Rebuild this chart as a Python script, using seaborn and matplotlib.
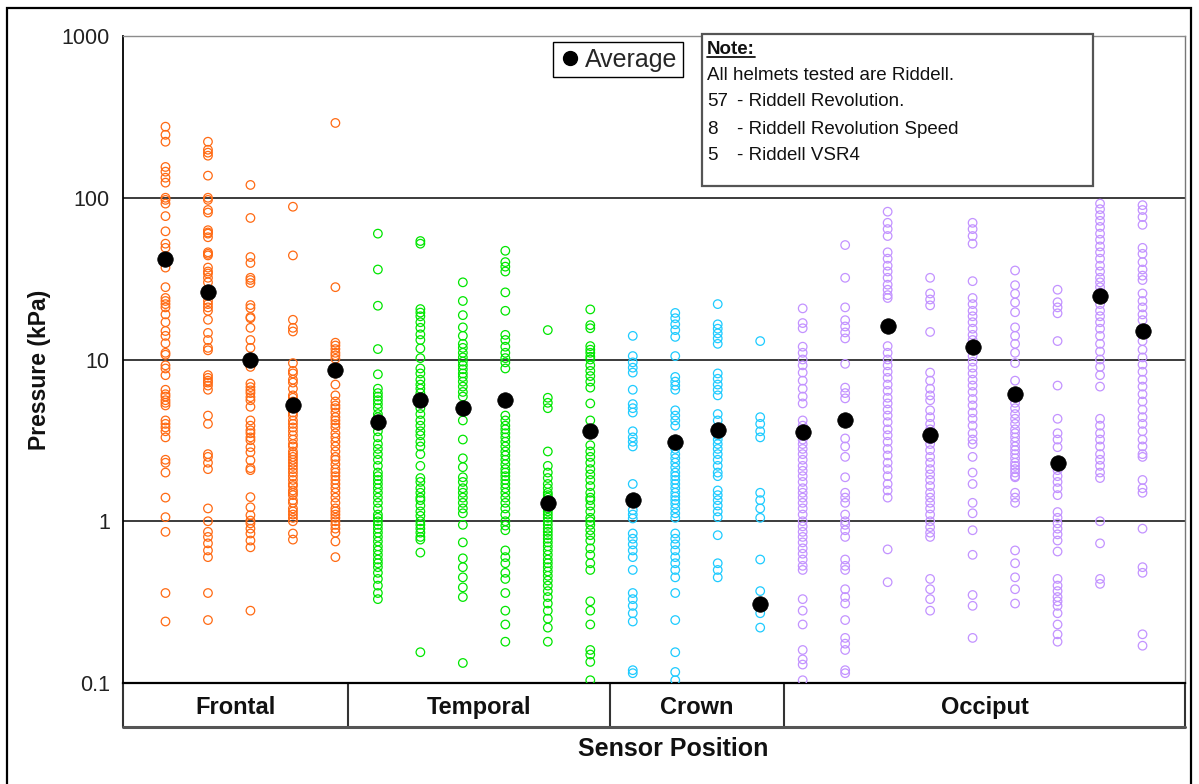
import numpy as np
import pandas as pd
import matplotlib
matplotlib.use("Agg")
import matplotlib.pyplot as plt
import seaborn as sns
from matplotlib.patches import Rectangle
from matplotlib.lines import Line2D
from matplotlib.ticker import LogLocator, FixedLocator, FuncFormatter, NullFormatter

# ---- data: peak pressure (kPa) per sensor, grouped by head region ----
regions = ["Frontal", "Temporal", "Crown", "Occiput"]
region_colors = ["#FF6A13", "#00E600", "#1ECBFF", "#C393FF"]

frontal = [
    [275, 245, 222, 155, 145, 133, 124, 100, 97, 92, 77, 62, 52, 49, 37, 28, 24, 23, 22, 21, 19, 17, 15, 14,
     12.6, 11, 10.7, 9.2, 8.8, 8.0, 6.5, 6.1, 5.9, 5.6, 5.4, 5.2, 4.2, 4.0, 3.8, 3.6, 3.3, 2.4, 2.3, 2.0,
     1.4, 1.06, 0.86, 0.36, 0.24],
    [222, 198, 190, 182, 137, 100, 97, 84, 81, 63, 61, 60, 57, 46, 45, 44, 37, 35, 34, 32, 30, 27, 26, 23,
     22, 21, 20, 17.6, 14.6, 13.2, 11.8, 11.4, 8.0, 7.7, 7.4, 7.2, 6.9, 6.5, 4.5, 4.0, 2.6, 2.5, 2.3, 2.1,
     1.2, 1.0, 0.86, 0.8, 0.73, 0.66, 0.6, 0.36, 0.245],
    [120, 75, 43, 39.5, 32, 31, 29.7, 21.7, 20.8, 18.3, 18, 15.7, 13.2, 11.8, 9.0, 7.1, 6.75, 6.45, 6.2,
     5.85, 5.6, 5.1, 4.2, 3.9, 3.65, 3.5, 3.3, 3.17, 2.87, 2.67, 2.38, 2.13, 2.07, 1.41, 1.22, 1.09, 1.01,
     0.97, 0.9, 0.84, 0.76, 0.69, 0.28],
    [88, 44, 17.6, 15.7, 14.9, 9.5, 8.5, 8.2, 7.5, 7.2, 6.6, 6.0, 5.8, 5.5, 5.3, 5.0, 4.7, 4.5, 4.2, 4.0,
     3.8, 3.6, 3.4, 3.2, 3.0, 2.9, 2.7, 2.6, 2.5, 2.4, 2.3, 2.2, 2.1, 2.0, 1.9, 1.8, 1.7, 1.65, 1.55, 1.5,
     1.45, 1.35, 1.3, 1.2, 1.15, 1.1, 1.05, 1.0, 0.84, 0.77],
    [290, 28, 12.7, 12.2, 11.6, 11, 10.6, 10.1, 8.2, 7.0, 6.0, 5.5, 5.2, 5.0, 4.7, 4.4, 4.2, 4.0, 3.8, 3.5,
     3.3, 3.1, 2.9, 2.7, 2.5, 2.4, 2.25, 2.1, 2.0, 1.9, 1.8, 1.7, 1.6, 1.5, 1.4, 1.3, 1.2, 1.15, 1.1, 1.05,
     1.0, 0.95, 0.9, 0.85, 0.75, 0.6],
]
temporal = [
    [60, 36, 21.5, 11.6, 8.1, 6.6, 6.2, 5.9, 5.6, 5.3, 5.0, 4.6, 4.4, 3.9, 3.6, 3.3, 3.0, 2.8, 2.6, 2.4,
     2.2, 2.0, 1.9, 1.8, 1.7, 1.6, 1.5, 1.4, 1.3, 1.2, 1.1, 1.05, 1.0, 0.95, 0.9, 0.85, 0.8, 0.75, 0.7,
     0.66, 0.62, 0.58, 0.55, 0.52, 0.48, 0.44, 0.4, 0.36, 0.33],
    [54, 52, 20.5, 19.5, 18.5, 17, 15.7, 14.3, 13.2, 11.7, 10.2, 8.8, 8.2, 7.5, 7, 6.6, 6.2, 5.0, 4.6, 4.2,
     3.9, 3.6, 3.4, 3.1, 2.9, 2.6, 2.2, 1.85, 1.75, 1.6, 1.5, 1.4, 1.35, 1.25, 1.15, 1.08, 1.0, 0.95, 0.9,
     0.85, 0.8, 0.77, 0.64, 0.155],
    [30, 23, 18.8, 15.8, 14, 12.5, 11.8, 11, 10.3, 9.7, 9.2, 8.7, 8.2, 7.8, 7.3, 6.8, 6.3, 5.9, 4.2, 3.2,
     2.45, 2.16, 1.87, 1.75, 1.6, 1.5, 1.4, 1.3, 1.2, 1.12, 0.95, 0.74, 0.59, 0.52, 0.45, 0.39, 0.34, 0.133],
    [47, 40, 37.5, 35, 26, 20, 14.2, 13.2, 12, 11, 10.2, 9.6, 8.8, 4.5, 4.2, 3.9, 3.7, 3.5, 3.3, 3.1, 2.9,
     2.7, 2.55, 2.4, 2.25, 2.1, 2.0, 1.9, 1.8, 1.7, 1.6, 1.5, 1.4, 1.3, 1.2, 1.1, 1.0, 0.94, 0.88, 0.66,
     0.6, 0.55, 0.48, 0.44, 0.36, 0.28, 0.23, 0.18],
    [15.2, 5.8, 5.4, 5.0, 2.7, 2.2, 2.0, 1.85, 1.7, 1.6, 1.5, 1.45, 1.4, 1.35, 1.25, 1.2, 1.15, 1.1, 1.05,
     1.0, 0.95, 0.9, 0.86, 0.82, 0.78, 0.74, 0.7, 0.66, 0.62, 0.58, 0.55, 0.52, 0.49, 0.46, 0.43, 0.4,
     0.37, 0.34, 0.31, 0.28, 0.25, 0.22, 0.18],
    [20.4, 16.3, 15.6, 12.1, 11.5, 11, 10.4, 10, 9.2, 8.5, 7.9, 7.3, 6.7, 5.35, 4.2, 2.95, 2.7, 2.5, 2.3,
     2.1, 1.95, 1.8, 1.65, 1.5, 1.4, 1.35, 1.25, 1.15, 1.05, 1.0, 0.95, 0.88, 0.82, 0.76, 0.68, 0.62, 0.55,
     0.5, 0.32, 0.28, 0.23, 0.16, 0.15, 0.135, 0.104],
]
crown = [
    [14, 10.5, 9.6, 8.9, 8.3, 6.5, 5.3, 5.0, 4.7, 3.6, 3.3, 3.1, 2.9, 1.7, 1.17, 1.1, 1.04, 0.84, 0.78,
     0.72, 0.66, 0.6, 0.5, 0.36, 0.33, 0.3, 0.27, 0.24, 0.12, 0.115],
    [19.4, 18, 16.5, 15.2, 13.8, 10.5, 7.8, 7.3, 6.9, 6.5, 4.85, 4.5, 4.2, 3.9, 3.0, 2.8, 2.6, 2.45, 2.3,
     2.15, 2.0, 1.9, 1.8, 1.7, 1.6, 1.5, 1.42, 1.35, 1.28, 1.2, 1.12, 1.05, 0.84, 0.78, 0.72, 0.66, 0.6,
     0.55, 0.5, 0.45, 0.36, 0.245, 0.155, 0.117, 0.104],
    [22, 16.5, 15.5, 14.5, 13.5, 12.5, 8.2, 7.6, 7.0, 6.5, 6.0, 4.6, 4.2, 3.8, 3.4, 3.2, 3.0, 2.8, 2.6,
     2.4, 2.2, 2.0, 1.9, 1.55, 1.45, 1.35, 1.25, 1.15, 1.06, 0.82, 0.55, 0.5, 0.45],
    [13, 4.4, 4.0, 3.6, 3.3, 1.5, 1.35, 1.2, 1.05, 0.58, 0.37, 0.27, 0.22],
]
occiput = [
    [20.7, 16.8, 15.6, 12, 11, 10, 9.2, 8.3, 7.4, 6.6, 5.9, 5.35, 4.2, 3.9, 3.2, 3.0, 2.8, 2.6, 2.4, 2.2,
     2.05, 1.9, 1.75, 1.6, 1.5, 1.4, 1.3, 1.2, 1.1, 1.0, 0.93, 0.86, 0.8, 0.74, 0.68, 0.63, 0.58, 0.53,
     0.5, 0.33, 0.28, 0.23, 0.16, 0.14, 0.13, 0.104],
    [51, 32, 21, 17.5, 16, 14.7, 13.5, 9.4, 6.7, 6.2, 5.75, 3.25, 2.9, 2.5, 1.87, 1.5, 1.4, 1.3, 1.1, 1.0,
     0.95, 0.88, 0.8, 0.58, 0.53, 0.5, 0.38, 0.34, 0.31, 0.245, 0.19, 0.175, 0.16, 0.12, 0.115],
    [82, 70, 64, 58, 46, 42, 38, 35, 32, 29, 27, 25, 24, 12.1, 11, 10, 9.2, 8.4, 7.7, 7.0, 6.4, 5.8, 5.35,
     4.9, 4.5, 4.1, 3.7, 3.4, 3.1, 2.8, 2.55, 2.3, 2.1, 1.9, 1.7, 1.55, 1.4, 0.67, 0.42],
    [32, 25.6, 23.5, 21.6, 14.8, 8.3, 7.4, 6.6, 6.0, 5.6, 4.85, 4.4, 4.0, 3.7, 3.2, 3.0, 2.75, 2.5, 2.3,
     2.1, 1.95, 1.8, 1.65, 1.5, 1.4, 1.3, 1.2, 1.1, 1.0, 0.92, 0.85, 0.8, 0.44, 0.38, 0.33, 0.28],
    [70, 64, 58, 52, 30.5, 24, 22, 20, 18.5, 17, 15.5, 14.2, 13.2, 11.5, 10.5, 9.7, 8.9, 8.2, 7.5, 6.9,
     6.3, 5.7, 5.2, 4.7, 4.3, 3.9, 3.5, 3.2, 3.0, 2.5, 2.0, 1.7, 1.3, 1.12, 0.88, 0.62, 0.35, 0.3, 0.19],
    [35.5, 28.8, 25.5, 22.5, 19.6, 15.8, 14, 12.5, 11, 9.5, 7.4, 5.8, 5.4, 5.0, 4.6, 4.3, 4.0, 3.7, 3.5,
     3.3, 3.1, 2.9, 2.75, 2.6, 2.45, 2.3, 2.2, 2.1, 2.0, 1.9, 1.87, 1.5, 1.4, 1.3, 0.66, 0.55, 0.45, 0.38,
     0.31],
    [27, 22.6, 21, 19.3, 13, 6.9, 4.3, 3.5, 3.2, 2.87, 2.07, 1.9, 1.75, 1.6, 1.45, 1.14, 1.05, 0.97, 0.9,
     0.83, 0.76, 0.65, 0.44, 0.4, 0.37, 0.34, 0.32, 0.3, 0.27, 0.23, 0.2, 0.18],
    [92, 85, 78, 72, 66, 60, 55, 50, 46, 42, 38, 35, 32, 30, 28, 26, 24, 22, 20, 18.5, 17, 15.5, 14, 12.5,
     11.2, 10, 9, 8, 6.8, 4.3, 3.9, 3.5, 3.2, 2.9, 2.6, 2.4, 2.2, 2.0, 1.85, 1.0, 0.73, 0.44, 0.41],
    [90, 84, 76, 68, 49, 45, 40, 36, 33, 31, 25.6, 23, 21, 19, 17.5, 14.6, 13, 11.5, 10.3, 9.3, 8.4, 7.5,
     6.8, 6.1, 5.5, 4.9, 4.4, 4.0, 3.6, 3.2, 2.9, 2.6, 2.5, 1.8, 1.6, 1.5, 0.9, 0.52, 0.48, 0.2, 0.17],
]

frontal_avg = [42, 26, 10, 5.2, 8.6]
temporal_avg = [4.1, 5.6, 5.0, 5.6, 1.3, 3.6]
crown_avg = [1.35, 3.1, 3.65, 0.31]
occiput_avg = [3.55, 4.2, 16, 3.4, 11.9, 6.1, 2.3, 24.6, 15]

# region boxes under the axis, in sensor-position units
region_edges = [0, 5.3, 11.46, 15.56, 25]

note_lines = [
    ("", "All helmets tested are Riddell."),
    ("57", "- Riddell Revolution."),
    ("8", "- Riddell Revolution Speed"),
    ("5", "- Riddell VSR4"),
]

# ---- long-form tables ----
rows, avg_rows = [], []
pos = 1
for name, cols, avgs in zip(regions, [frontal, temporal, crown, occiput],
                            [frontal_avg, temporal_avg, crown_avg, occiput_avg]):
    for col, avg in zip(cols, avgs):
        rows += [(pos, v, name) for v in col]
        avg_rows.append((pos, avg))
        pos += 1
df = pd.DataFrame(rows, columns=["position", "pressure", "region"])
avg_df = pd.DataFrame(avg_rows, columns=["position", "average"])

# ---- figure ----
sns.set_style("white")
plt.rcParams["font.family"] = ["Liberation Sans", "DejaVu Sans"]

W, H = 1199, 784
fig = plt.figure(figsize=(W / 100, H / 100), dpi=100)
fig.patch.set_facecolor("white")
ax = fig.add_axes([123 / W, 1 - 683 / H, (1185 - 123) / W, (683 - 36) / H])
ax.set_yscale("log")

sns.scatterplot(data=df, x="position", y="pressure", hue="region",
                palette=dict(zip(regions, region_colors)), marker="o", s=38,
                linewidth=0.9, legend=False, ax=ax, zorder=3)
pts = ax.collections[0]
pts.set_edgecolors(pts.get_facecolors())
pts.set_facecolors("none")

sns.scatterplot(data=avg_df, x="position", y="average", color="black", s=125,
                edgecolor="black", linewidth=0.5, legend=False, ax=ax, zorder=5)

ax.set_xlim(0, 25)
ax.set_ylim(0.1, 1000)
ax.set_xticks([])
ax.set_xlabel("")
ax.set_ylabel("")

for v in (1, 10, 100):
    ax.axhline(v, color="#1a1a1a", lw=1.2, zorder=2)

ax.yaxis.set_major_locator(FixedLocator([0.1, 1, 10, 100, 1000]))
ax.yaxis.set_major_formatter(FuncFormatter(lambda v, _: f"{v:g}"))
ax.yaxis.set_minor_locator(LogLocator(base=10, subs=np.arange(2, 10)))
ax.yaxis.set_minor_formatter(NullFormatter())
ax.tick_params(axis="y", which="major", direction="inout", length=11, width=1,
               color="black", labelsize=15.5, pad=4, labelcolor="#222222")
ax.tick_params(axis="y", which="minor", direction="in", length=5, width=1, color="black")

ax.spines["left"].set_color("black")
ax.spines["left"].set_linewidth(1.3)
ax.spines["bottom"].set_color("black")
ax.spines["bottom"].set_linewidth(1.6)
ax.spines["top"].set_color("#8c8c8c")
ax.spines["top"].set_linewidth(1.0)
ax.spines["right"].set_color("#777777")
ax.spines["right"].set_linewidth(1.0)

# region table below the axis
trans = ax.get_xaxis_transform()
tb = -(727 - 683) / (683 - 36)
for e in region_edges:
    ax.plot([e, e], [0, tb], transform=trans, clip_on=False, color="#333333", lw=1.5)
ax.plot([0, 25], [tb, tb], transform=trans, clip_on=False, color="#555555", lw=2.2)
for name, a, b in zip(regions, region_edges[:-1], region_edges[1:]):
    ax.text((a + b) / 2, tb / 2 - 0.004, name, transform=trans, ha="center", va="center",
            fontsize=17, fontweight="bold", color="#111111")

fig.text(673 / W, 1 - 749 / H, "Sensor Position", ha="center", va="center",
         fontsize=18, fontweight="bold", color="#111111")
fig.text(40 / W, 1 - 370 / H, "Pressure (kPa)", ha="center", va="center",
         rotation=90, fontsize=16.5, fontweight="bold", color="#111111")

# legend for the averages
handle = Line2D([], [], marker="o", ls="none", color="black", markersize=10, label="Average")
leg = ax.legend(handles=[handle], loc="upper left", bbox_to_anchor=(553 / W, 1 - 42 / H),
                bbox_transform=fig.transFigure, frameon=True, fancybox=False, framealpha=1,
                edgecolor="black", fontsize=18, handletextpad=0.15, borderpad=0.22,
                handlelength=0.9, borderaxespad=0)
leg.get_frame().set_linewidth(1.0)
leg.set_zorder(10)

# note box
fig.add_artist(Rectangle((702 / W, 1 - 186 / H), (1093 - 702) / W, (186 - 34) / H,
                         transform=fig.transFigure, facecolor="white",
                         edgecolor="#555555", lw=1.6, zorder=10))
note_title = fig.text(707 / W, 1 - 49 / H, "Note:", ha="left", va="center",
                      fontsize=13.5, fontweight="bold", color="#111111", zorder=11)
for i, (num, rest) in enumerate(note_lines):
    y = 1 - (75 + i * 27) / H
    if num:
        fig.text(707 / W, y, num, ha="left", va="center", fontsize=13.5, color="#111111", zorder=11)
        fig.text(737 / W, y, rest, ha="left", va="center", fontsize=13.5, color="#111111", zorder=11)
    else:
        fig.text(707 / W, y, rest, ha="left", va="center", fontsize=13.5, color="#111111", zorder=11)

fig.canvas.draw()
bb = note_title.get_window_extent().transformed(fig.transFigure.inverted())
fig.add_artist(Line2D([bb.x0, bb.x1], [bb.y0 + 0.001, bb.y0 + 0.001], transform=fig.transFigure,
                      color="#111111", lw=1.3, zorder=11))

# outer frame
fig.add_artist(Rectangle((7 / W, -0.05), (1191 - 7) / W, 1 - 8 / H + 0.05,
                         transform=fig.transFigure, fill=False, edgecolor="black", lw=1.6,
                         zorder=12))

fig.savefig("out.png", dpi=100, facecolor="white")
